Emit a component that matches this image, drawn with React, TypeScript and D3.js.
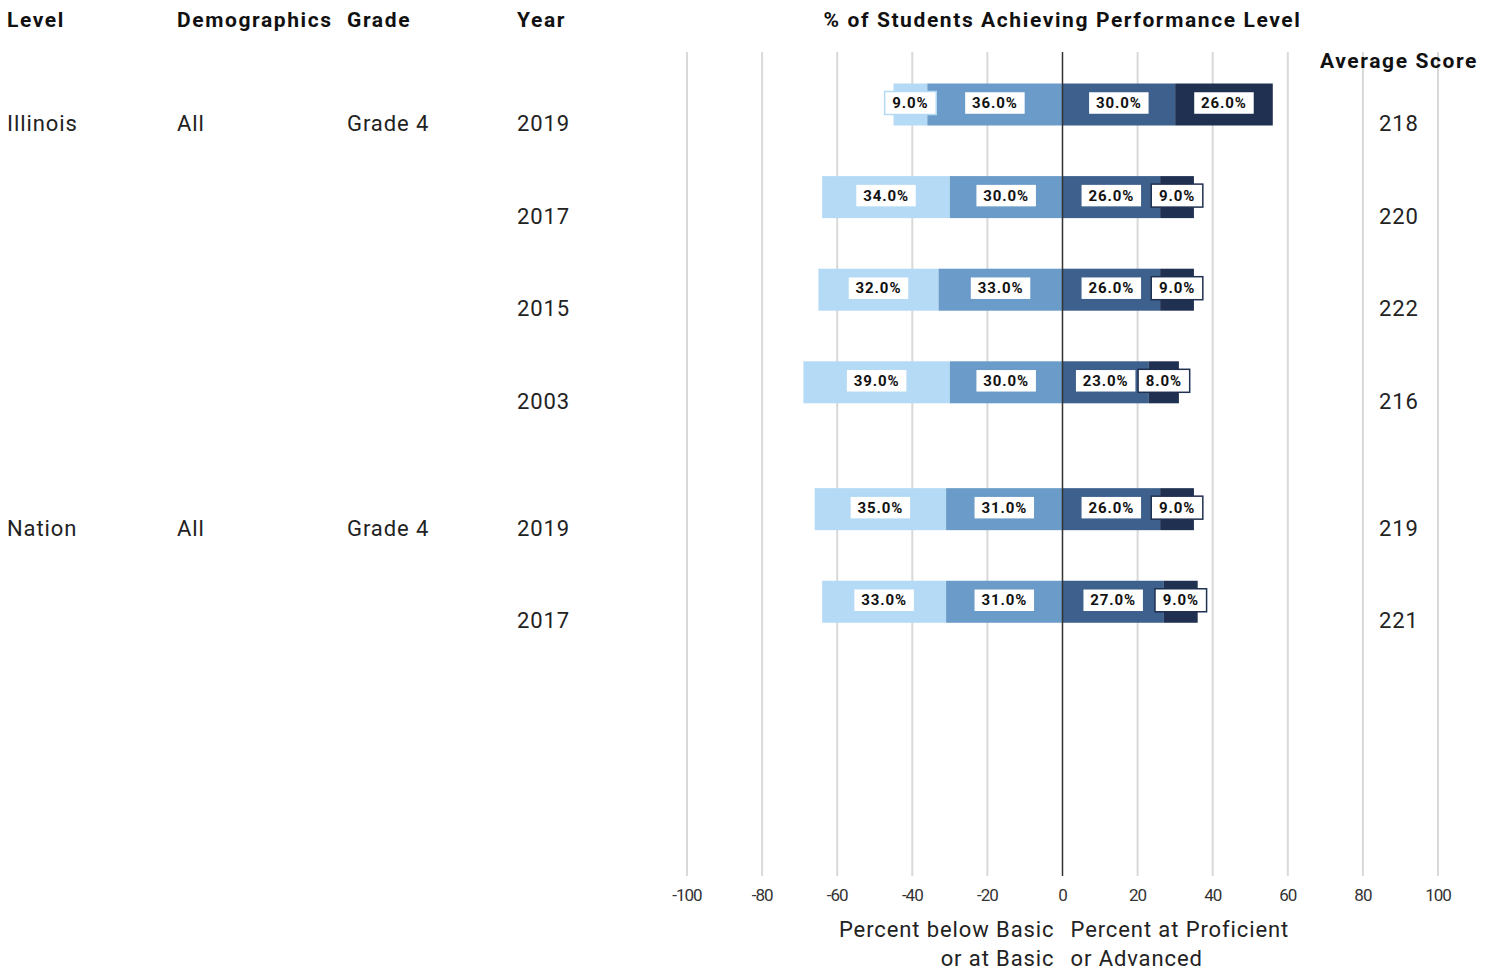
import * as d3 from "d3";

const levels = ["Illinois", "", "", "", "Nation", ""];
const demographics = ["All", "", "", "", "All", ""];
const grades = ["Grade 4", "", "", "", "Grade 4", ""];
const years = ["2019", "2017", "2015", "2003", "2019", "2017"];
const groupIndex = [0, 0, 0, 0, 1, 1];
const belowBasic = [9, 34, 32, 39, 35, 33];
const atBasic = [36, 30, 33, 30, 31, 31];
const proficient = [30, 26, 26, 23, 26, 27];
const advanced = [26, 9, 9, 8, 9, 9];
const avgScores = [218, 220, 222, 216, 219, 221];
const ticks = [-100, -80, -60, -40, -20, 0, 20, 40, 60, 80, 100];

const colors = {
  below: "#b4daf5",
  basic: "#6a9bc9",
  prof: "#3d608c",
  adv: "#203050",
};

const W = 1497;
const H = 970;
const font = "Roboto, 'Noto Sans', sans-serif";

export default function App() {
  const x = d3.scaleLinear().domain([-100, 100]).range([687, 1438]);
  // rows: extra gap between the two groups
  const y = d3.scaleLinear().domain([0, 1]).range([104.5, 197.1]);
  const rowPos = (i: number) => y(i + groupIndex[i] * 0.37);
  const barH = 42;

  const rows = years.map((yr, i) => {
    const segs = [
      { key: "below", x0: -(belowBasic[i] + atBasic[i]), x1: -atBasic[i], v: belowBasic[i], color: colors.below },
      { key: "basic", x0: -atBasic[i], x1: 0, v: atBasic[i], color: colors.basic },
      { key: "prof", x0: 0, x1: proficient[i], v: proficient[i], color: colors.prof },
      { key: "adv", x0: proficient[i], x1: proficient[i] + advanced[i], v: advanced[i], color: colors.adv },
    ];
    return { i, yr, segs };
  });

  return (
    <svg width={W} height={H} style={{ position: "absolute", left: 0, top: 0, background: "#fff" }}>
      {/* headers */}
      <g fontFamily={font} fontWeight="bold" fontSize={21} fill="#111" letterSpacing={1.6}>
        <text x={7} y={27}>Level</text>
        <text x={177} y={27}>Demographics</text>
        <text x={347} y={27}>Grade</text>
        <text x={517} y={27}>Year</text>
        <text x={x(0)} y={27} textAnchor="middle">% of Students Achieving Performance Level</text>
      </g>

      {/* gridlines */}
      {ticks.filter((t) => t !== 0).map((t) => (
        <line key={t} x1={x(t)} x2={x(t)} y1={52} y2={876} stroke="#d9d9d9" strokeWidth={2} />
      ))}

      <text x={1399} y={68} textAnchor="middle" fontFamily={font} fontWeight="bold" fontSize={21} fill="#111" letterSpacing={1.6}>
        Average Score
      </text>

      {/* bars */}
      {rows.map((r) => (
        <g key={r.i}>
          {r.segs.map((s) => (
            <rect
              key={s.key}
              x={x(s.x0)}
              y={rowPos(r.i) - barH / 2}
              width={x(s.x1) - x(s.x0)}
              height={barH}
              fill={s.color}
            />
          ))}
        </g>
      ))}

      {/* zero line */}
      <line x1={x(0)} x2={x(0)} y1={52} y2={876} stroke="#333" strokeWidth={1.5} />

      {/* data labels */}
      {rows.map((r) =>
        r.segs.map((s) => {
          const cx = (x(s.x0) + x(s.x1)) / 2;
          const cy = rowPos(r.i) - 1.5;
          const label = `${s.v.toFixed(1)}%`;
          const bw = label.length * 9.4 + 14;
          return (
            <g key={`${r.i}-${s.key}`}>
              <rect x={cx - bw / 2} y={cy - 11.5} width={bw} height={23} fill="#fff" stroke={s.color} strokeWidth={1.5} />
              <text
                x={cx}
                y={cy + 5}
                textAnchor="middle"
                fontFamily={font}
                fontWeight="bold"
                fontSize={15}
                fill="#111"
                letterSpacing={0.9}
              >
                {label}
              </text>
            </g>
          );
        })
      )}

      {/* row text */}
      <g fontFamily={font} fontSize={22} fill="#222" letterSpacing={0.9}>
        {rows.map((r) => {
          const ty = rowPos(r.i) + 26.5;
          return (
            <g key={r.i}>
              <text x={7} y={ty}>{levels[r.i]}</text>
              <text x={177} y={ty}>{demographics[r.i]}</text>
              <text x={347} y={ty}>{grades[r.i]}</text>
              <text x={517} y={ty}>{r.yr}</text>
              <text x={1399} y={ty} textAnchor="middle">{avgScores[r.i]}</text>
            </g>
          );
        })}
      </g>

      {/* tick labels */}
      <g fontFamily={font} fontSize={17} fill="#333" letterSpacing={-1}>
        {ticks.map((t) => (
          <text key={t} x={x(t)} y={901} textAnchor="middle">{t}</text>
        ))}
      </g>

      {/* axis titles */}
      <g fontFamily={font} fontSize={22} fill="#222" letterSpacing={0.9}>
        <text x={x(0) - 8} y={937} textAnchor="end">Percent below Basic</text>
        <text x={x(0) - 8} y={966} textAnchor="end">or at Basic</text>
        <text x={x(0) + 8} y={937}>Percent at Proficient</text>
        <text x={x(0) + 8} y={966}>or Advanced</text>
      </g>
    </svg>
  );
}
